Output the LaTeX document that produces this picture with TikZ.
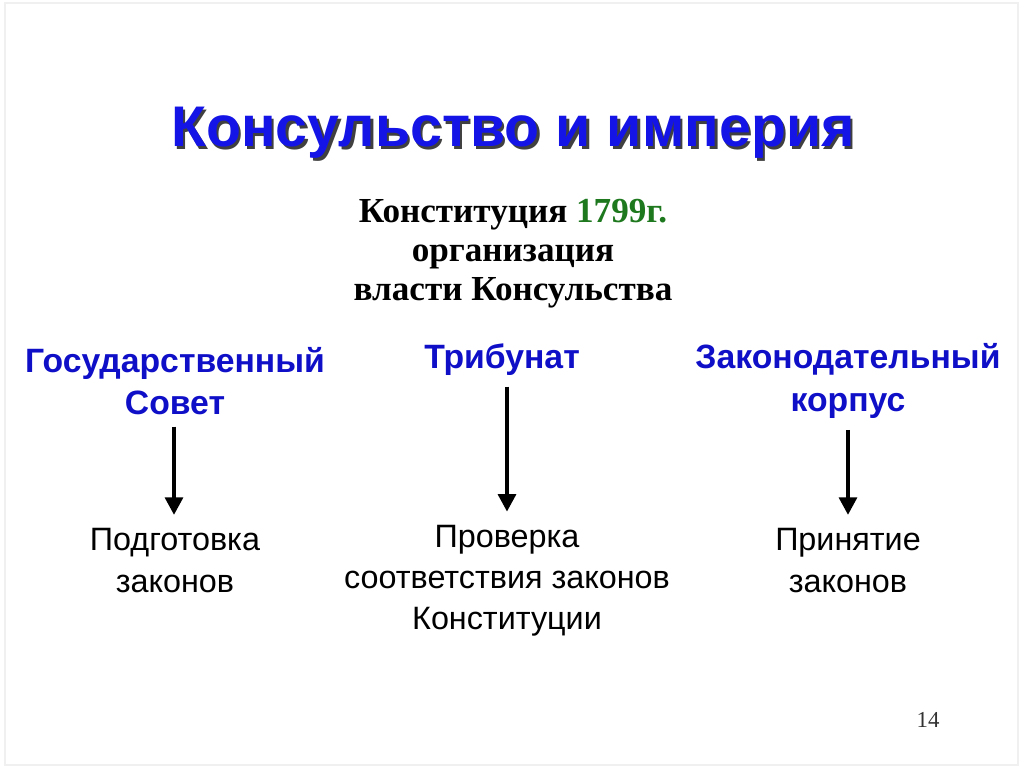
\documentclass[tikz,border=0pt]{standalone}
\usepackage{fontspec}
\setmainfont{Liberation Serif}
\setsansfont{Liberation Sans}
\usetikzlibrary{positioning,arrows.meta}

\definecolor{titleblue}{RGB}{20,20,230}
\definecolor{headblue}{RGB}{15,15,200}
\definecolor{yeargreen}{RGB}{30,120,30}

\tikzset{
  headtext/.style={font=\sffamily\bfseries\fontsize{9.6}{12}\selectfont, text=headblue, align=center, inner sep=0pt},
  bodytext/.style={font=\sffamily\fontsize{9.2}{11.7}\selectfont, align=center, inner sep=0pt},
  downarrow/.style={line width=1.2pt, -{Triangle[width=5pt,length=5pt]}, shorten >=0.13cm}
}

\begin{document}
\begin{tikzpicture}
				\useasboundingbox (0,0) rectangle (10.24,7.67);
				\draw[gray!12, line width=0.4pt] (0.05,0.02) rectangle (10.18,7.64);
				
				% Titolo con ombra
				\node[font=\sffamily\bfseries\fontsize{16.3}{19}\selectfont, text=black!75] at (5.155,6.315) {Консульство и империя};
				\node[font=\sffamily\bfseries\fontsize{16.3}{19}\selectfont, text=titleblue] (title) at (5.13,6.34) {Консульство и империя};
				
				% Costituzione
				\node[font=\rmfamily\bfseries\fontsize{10}{11.1}\selectfont, align=center] (constit) at (5.13,5.13)
					{Конституция \textcolor{yeargreen}{1799г.}\\организация\\власти Консульства};
				
				% Organi
				\node[headtext] (sovet) at (1.75,3.86) {Государственный\\Совет};
				\node[headtext] (tribunat) at (5.02,4.07) {Трибунат};
				\node[headtext] (korpus) at (8.48,3.86) {Законодательный\\корпус};
				
				% Funzioni
				\node[bodytext] (podgot) at (1.75,2.065) {Подготовка\\законов};
				\node[bodytext] (proverka) at (5.07,1.86) {Проверка\\соответствия законов\\Конституции};
				\node[bodytext] (prinyat) at (8.48,2.065) {Принятие\\законов};
				
				% Frecce
				\draw[downarrow, shorten <=0.11cm] (sovet.south -| 1.74,0) -- (podgot.north -| 1.74,0);
				\draw[downarrow, shorten <=0.10cm] (tribunat.south -| 5.07,0) -- (proverka.north -| 5.07,0);
				\draw[downarrow, shorten <=0.11cm] (korpus.south -| 8.48,0) -- (prinyat.north -| 8.48,0);
				
				% Numero di pagina
				\node[font=\rmfamily\fontsize{6.5}{8}\selectfont, text=black!80] (pagenum) at (9.28,0.47) {14};
\end{tikzpicture}
\end{document}
